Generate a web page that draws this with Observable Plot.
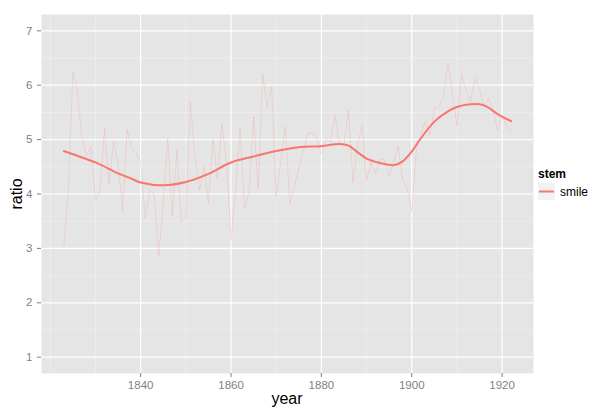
<!DOCTYPE html>
<html><head><meta charset="utf-8">
<script src="https://cdn.jsdelivr.net/npm/d3@7"></script>
<script src="https://cdn.jsdelivr.net/npm/@observablehq/plot@0.6"></script>
<style>
body{margin:0;background:#fff;}
#wrap{position:relative;width:611px;height:416px;font-family:"Liberation Sans",Arial,Helvetica,sans-serif;}
#overlay{position:absolute;left:0;top:0;pointer-events:none;}
</style></head><body><div id="wrap"></div>
<script>
const years = [1823,1824,1825,1826,1827,1828,1829,1830,1831,1832,1833,1834,1835,1836,1837,1838,1839,
1840,1841,1842,1843,1844,1845,1846,1847,1848,1849,1850,1851,1852,1853,1854,1855,1856,1857,1858,1859,
1860,1861,1862,1863,1864,1865,1866,1867,1868,1869,1870,1871,1872,1873,1874,1875,1876,1877,1878,1879,
1880,1881,1882,1883,1884,1885,1886,1887,1888,1889,1890,1891,1892,1893,1894,1895,1896,1897,1898,1899,
1900,1901,1902,1903,1904,1905,1906,1907,1908,1909,1910,1911,1912,1913,1914,1915,1916,1917,1918,1919,
1920,1921,1922];
const ratio = [3.05,4.1,6.25,5.87,5.03,4.71,4.87,3.88,4.06,5.2,4.17,4.98,4.57,3.70,5.19,4.85,4.74,
4.59,3.55,4.07,4.0,2.87,3.85,5.02,3.6,4.8,3.49,3.56,5.69,4.72,4.07,4.5,3.83,5.02,4.28,5.3,4.58,
3.16,4.04,5.2,3.74,4.05,5.42,4.1,6.2,5.6,5.97,3.95,4.6,5.24,3.82,4.13,4.47,4.8,5.12,5.12,5.02,
4.74,5.02,4.95,5.45,4.92,4.91,5.54,4.21,4.9,5.26,4.25,4.6,4.37,4.65,4.62,4.33,4.6,4.88,4.25,4.12,
3.68,4.78,5.08,5.33,5.08,5.57,5.6,5.78,6.41,5.85,5.26,6.2,5.91,5.69,6.12,5.94,5.6,5.76,5.54,5.17,
5.42,5.26,5.14];
const smoothYears = [1823,1825,1830,1835,1838,1840,1845,1850,1855,1860,1865,1870,1875,1880,1884,1886,1888,1890,1893,1896,1898,1900,1902,1905,1908,1910,1913,1916,1919,1922];
const smoothRatio = [4.79,4.73,4.58,4.38,4.28,4.21,4.16,4.22,4.37,4.58,4.69,4.79,4.86,4.88,4.92,4.89,4.77,4.65,4.57,4.53,4.6,4.78,5.02,5.33,5.52,5.6,5.65,5.63,5.47,5.34];
const xMajor = [1840,1860,1880,1900,1920];
const xMinor = [1820,1830,1850,1870,1890,1910];
const yMajor = [1,2,3,4,5,6,7];
const yMinor = [1.5,2.5,3.5,4.5,5.5,6.5];
const stemName = "smile";

const raw = years.map((y,i)=>({year:y, ratio:ratio[i]}));
const smooth = smoothYears.map((y,i)=>({year:y, ratio:smoothRatio[i]}));
const red = "#F8766D";

const chart = Plot.plot({
  width: 611, height: 416,
  marginLeft: 41, marginRight: 78, marginTop: 14, marginBottom: 43,
  x: {domain: [1818.05, 1926.95]},
  y: {domain: [0.7, 7.3]},
  style: {fontFamily: '"Liberation Sans",Arial,Helvetica,sans-serif', fontSize: "11.5px", color: "#7F7F7F", background: "white"},
  marks: [
    Plot.frame({fill: "#E5E5E5", stroke: null}),
    Plot.ruleX(xMinor, {stroke: "#F2F2F2", strokeWidth: 0.6}),
    Plot.ruleY(yMinor, {stroke: "#F2F2F2", strokeWidth: 0.6}),
    Plot.ruleX(xMajor, {stroke: "white", strokeWidth: 1.2}),
    Plot.ruleY(yMajor, {stroke: "white", strokeWidth: 1.2}),
    Plot.line(raw, {x: "year", y: "ratio", stroke: red, strokeOpacity: 0.32, strokeWidth: 0.6}),
    Plot.line(smooth, {x: "year", y: "ratio", stroke: red, strokeWidth: 2, curve: "catmull-rom"}),
    Plot.axisX({ticks: xMajor, tickSize: 4, tickPadding: 3, label: null, tickFormat: d => String(d)}),
    Plot.axisY({ticks: yMajor, tickSize: 4, tickPadding: 5, label: null, tickFormat: d => String(d)})
  ]
});
const wrap = document.getElementById("wrap");
wrap.appendChild(chart);

const ns = "http://www.w3.org/2000/svg";
const ov = document.createElementNS(ns, "svg");
ov.setAttribute("id","overlay");
ov.setAttribute("width","611"); ov.setAttribute("height","416");
ov.innerHTML = `
<text x="287" y="404" text-anchor="middle" font-size="16" fill="#000">year</text>
<text transform="translate(22,194) rotate(-90)" text-anchor="middle" font-size="16" fill="#000">ratio</text>
<text x="538" y="178" font-size="12" font-weight="bold" fill="#000">stem</text>
<rect x="538" y="183" width="17" height="17" fill="#F2F2F2"></rect>
<line x1="539" x2="554" y1="191.5" y2="191.5" stroke="${red}" stroke-width="2"></line>
<text x="560" y="196" font-size="12" fill="#000">${stemName}</text>`;
wrap.appendChild(ov);
</script></body></html>
